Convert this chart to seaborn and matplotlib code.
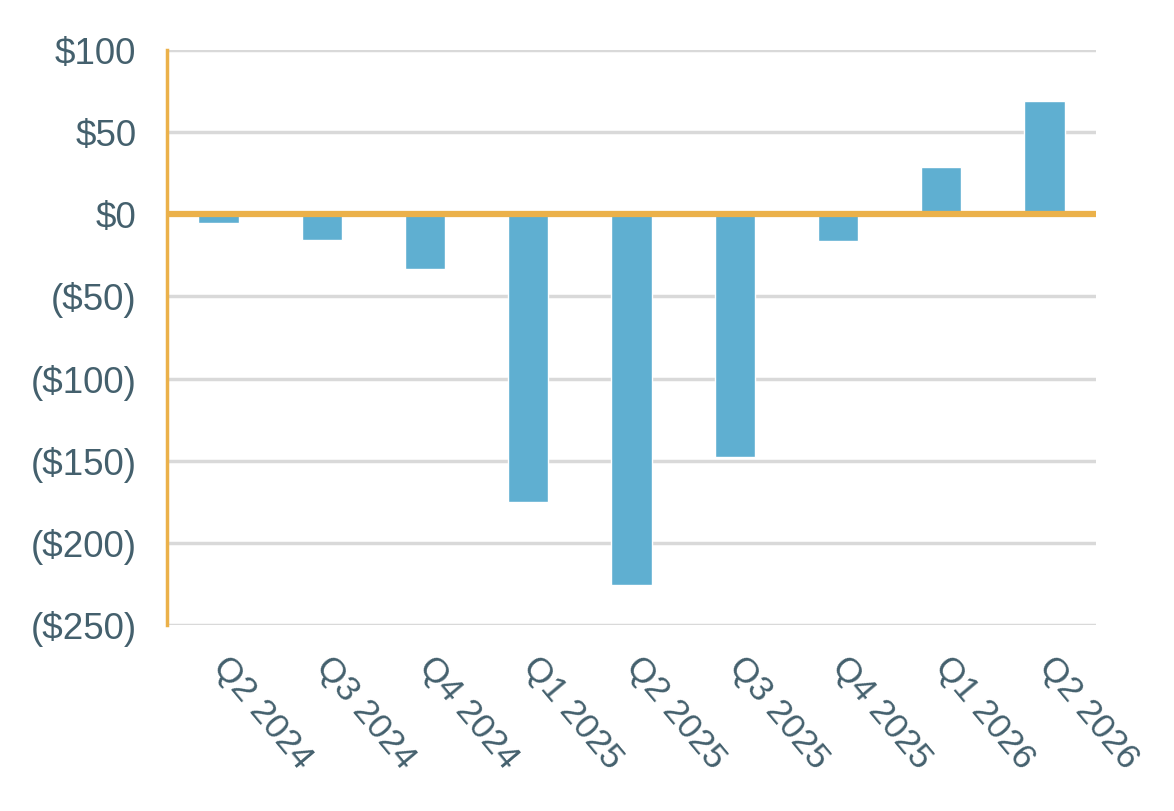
import matplotlib
matplotlib.use("Agg")
import matplotlib.pyplot as plt
import matplotlib.transforms as mtransforms
import seaborn as sns
import pandas as pd

# data
quarters = ["Q2 2024", "Q3 2024", "Q4 2024", "Q1 2025", "Q2 2025",
            "Q3 2025", "Q4 2025", "Q1 2026", "Q2 2026"]
values = [-5.5, -15.5, -33, -175, -225.5, -147.5, -16.5, 28.5, 69]
y_ticks = [100, 50, 0, -50, -100, -150, -200, -250]
y_labels = ["$100", "$50", "$0", "($50)", "($100)", "($150)", "($200)", "($250)"]

df = pd.DataFrame({"quarter": quarters, "value": values})

sns.set_theme(style="white")
plt.rcParams['font.family'] = ['Liberation Sans', 'DejaVu Sans']

text_color = "#44606d"
bar_color = "#5fafd1"
orange = "#ebb14a"
grid_color = "#d9d9d9"

fig = plt.figure(figsize=(11.74, 8.11), dpi=100)
ax = fig.add_axes([0.1422, 0.2294, 0.7914, 0.7089])

sns.barplot(data=df, x="quarter", y="value", color=bar_color, width=0.39,
            saturation=1, ax=ax, zorder=2)

ax.set_ylim(-250, 100)
ax.set_xlim(-0.5, len(quarters) - 0.5)
ax.set_yticks(y_ticks)
ax.set_yticklabels(y_labels)

for t in y_ticks:
    if t != 0:
        ax.axhline(t, color=grid_color, linewidth=2.5, zorder=1)
ax.axhline(0, color=orange, linewidth=4.5, zorder=3)

for s in ["top", "right", "bottom"]:
    ax.spines[s].set_visible(False)
ax.spines["left"].set_color(orange)
ax.spines["left"].set_linewidth(2.5)
ax.spines["left"].set_zorder(4)

ax.set_xlabel("")
ax.set_ylabel("")
ax.tick_params(axis="y", length=0, pad=22, labelsize=26.5, labelcolor=text_color)
ax.tick_params(axis="x", length=0, pad=18, labelsize=25.5, labelcolor=text_color)
shift = mtransforms.ScaledTranslation(0.13, 0, fig.dpi_scale_trans)
for lbl in ax.get_xticklabels():
    lbl.set_rotation(-50)
    lbl.set_ha("left")
    lbl.set_va("top")
    lbl.set_rotation_mode("anchor")
    lbl.set_transform(lbl.get_transform() + shift)

fig.savefig("out.png", dpi=100)
